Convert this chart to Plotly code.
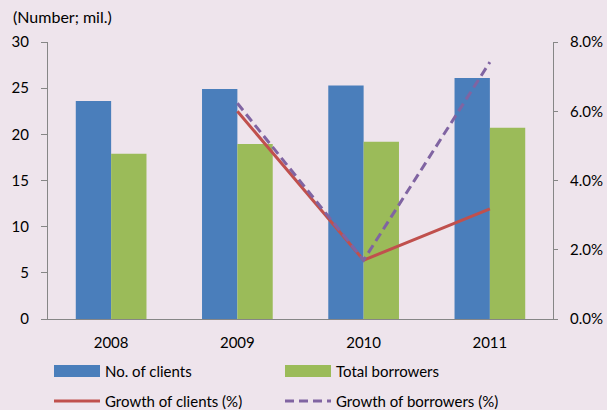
import plotly.graph_objects as go

years = ["2008", "2009", "2010", "2011"]
clients = [23.6, 24.9, 25.3, 26.1]
borrowers = [17.9, 18.95, 19.2, 20.7]
growth_years = ["2009", "2010", "2011"]
growth_clients = [6.0, 1.7, 3.18]
growth_borrowers = [6.23, 1.7, 7.42]

BG = "#EEE4EC"
FONT = "Lato"
W, H = 607, 410
L, R, T, B = 48, 54, 42, 91
pw, ph = W - L - R, H - T - B


def px(x):
    return (x - L) / pw


def py(y):
    return (H - B - y) / ph


fig = go.Figure()
fig.add_trace(go.Bar(x=years, y=clients, name="No. of clients", marker_color="#4A7EBB",
                     marker_line_width=0))
fig.add_trace(go.Bar(x=years, y=borrowers, name="Total borrowers", marker_color="#9BBB59",
                     marker_line_width=0))
fig.add_trace(go.Scatter(x=growth_years, y=growth_clients, name="Growth of clients (%)",
                         mode="lines", yaxis="y2", line=dict(color="#C0504D", width=3)))
fig.add_trace(go.Scatter(x=growth_years, y=growth_borrowers, name="Growth of borrowers (%)",
                         mode="lines", yaxis="y2",
                         line=dict(color="#8064A2", width=3, dash="9px,5px")))

axis_col = "#868686"
fig.update_layout(
    width=W, height=H,
    margin=dict(l=L, r=R, t=T, b=B),
    paper_bgcolor=BG, plot_bgcolor=BG,
    font=dict(family=FONT, size=15, color="#000000"),
    showlegend=False,
    barmode="group", bargap=0.44, bargroupgap=0,
    xaxis=dict(type="category", showline=True, linecolor=axis_col, linewidth=1,
               ticks="", showgrid=False, tickfont=dict(size=15), ticklen=0,
               ticklabelstandoff=10, automargin=False),
    yaxis=dict(range=[0, 30], dtick=5, showline=True, linecolor=axis_col, linewidth=1,
               ticks="outside", ticklen=6, tickcolor=axis_col, showgrid=False,
               zeroline=False, tickfont=dict(size=15), ticklabelstandoff=9,
               automargin=False),
    yaxis2=dict(range=[0, 8], dtick=2, overlaying="y", side="right", showline=True,
                linecolor=axis_col, linewidth=1, ticks="outside", ticklen=4,
                tickcolor=axis_col, showgrid=False, zeroline=False,
                tickformat=".1f", ticksuffix="%", tickfont=dict(size=15),
                ticklabelstandoff=9, automargin=False),
)

fig.add_annotation(text="(Number; mil.)", xref="paper", yref="paper", x=px(11), y=py(16),
                   xanchor="left", yanchor="middle", showarrow=False, font=dict(size=16))

# custom legend
legend_items = [
    ("rect", "#4A7EBB", "No. of clients", 54, 371),
    ("rect", "#9BBB59", "Total borrowers", 285, 371),
    ("line", "#C0504D", "Growth of clients (%)", 54, 401),
    ("dash", "#8064A2", "Growth of borrowers (%)", 285, 401),
]
for kind, col, label, x0, yc in legend_items:
    if kind == "rect":
        fig.add_shape(type="rect", xref="paper", yref="paper", x0=px(x0), x1=px(x0 + 46),
                      y0=py(yc + 6), y1=py(yc - 6), fillcolor=col, line_width=0)
    else:
        fig.add_shape(type="line", xref="paper", yref="paper", x0=px(x0), x1=px(x0 + 46),
                      y0=py(yc), y1=py(yc),
                      line=dict(color=col, width=3,
                                dash="9px,5px" if kind == "dash" else "solid"))
    fig.add_annotation(text=label, xref="paper", yref="paper", x=px(x0 + 49), y=py(yc),
                       xanchor="left", yanchor="middle", showarrow=False, font=dict(size=15))

fig.write_html("out.html", config={"displayModeBar": False},
               post_script="document.body.style.margin='0';document.body.style.overflow='hidden';")
